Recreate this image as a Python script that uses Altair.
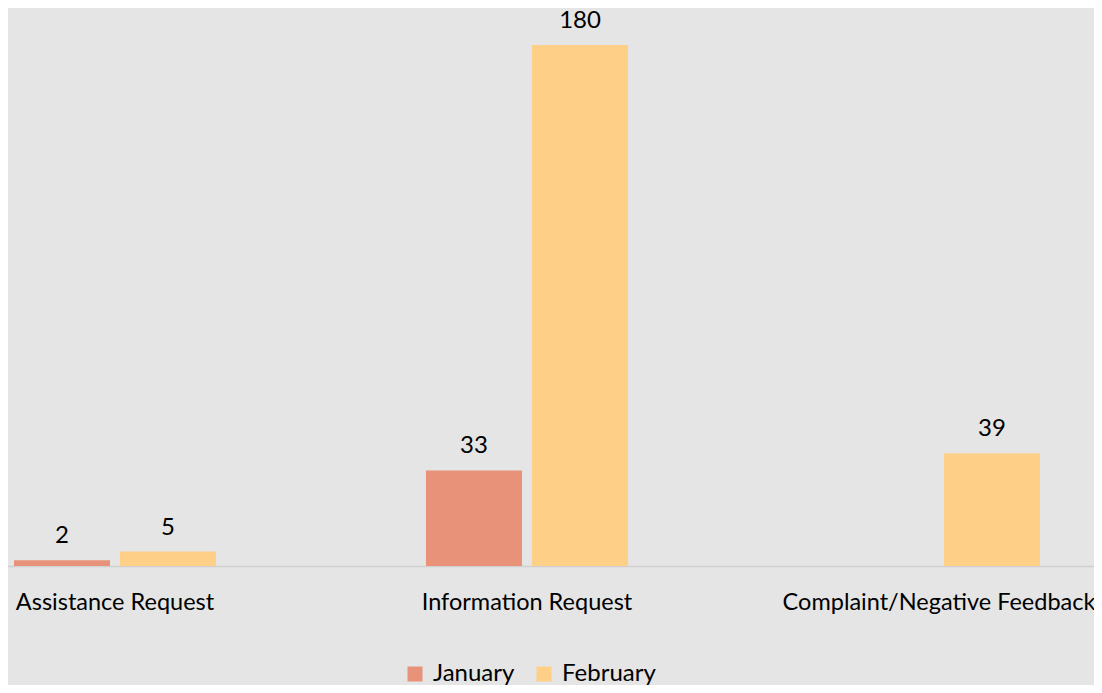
import altair as alt
import pandas as pd

categories = ["Assistance Request", "Information Request", "Complaint/Negative Feedback"]
months = ["January", "February"]
january = [2, 33, None]
february = [5, 180, 39]
colors = ["#E8927A", "#FECF86"]

rows = []
for c, j, f in zip(categories, january, february):
    rows.append({"category": c, "month": "January", "value": j})
    rows.append({"category": c, "month": "February", "value": f})
df = pd.DataFrame(rows)

FONT = "Lato"

base = alt.Chart(df).encode(
    x=alt.X("category:N", sort=categories, title=None,
            scale=alt.Scale(range=[-99, 1137], paddingInner=0, paddingOuter=0),
            axis=alt.Axis(labelAngle=0, ticks=False, tickSize=0, domainColor="#D0D0D0",
                          domainWidth=1.5, labelFontSize=23.5, labelFont=FONT, labelColor="#000000",
                          labelBaseline="alphabetic", labelPadding=43, labelLimit=0)),
    xOffset=alt.XOffset("month:N", sort=months,
                        scale=alt.Scale(domain=months, paddingInner=0.094, paddingOuter=0.99)),
)

bars = base.mark_bar().encode(
    y=alt.Y("value:Q", axis=None, scale=alt.Scale(domain=[0, 192.8], nice=False)),
    color=alt.Color("month:N", sort=months,
                    scale=alt.Scale(domain=months, range=colors),
                    legend=alt.Legend(title=None, orient="none", legendX=395, legendY=654,
                                      direction="horizontal", symbolType="square",
                                      symbolSize=225, symbolStrokeWidth=0,
                                      labelFontSize=24, labelFont=FONT, labelColor="#000000",
                                      labelOffset=6, columnPadding=17, padding=0)),
)

labels = base.transform_filter("isValid(datum.value)").mark_text(
    dy=-17, baseline="alphabetic", fontSize=24, font=FONT, color="#000000"
).encode(
    y=alt.Y("value:Q", scale=alt.Scale(domain=[0, 192.8], nice=False)),
    text=alt.Text("value:Q"),
)

chart = (bars + labels).properties(
    width=1086, height=558,
    autosize=alt.AutoSizeParams(type="none"),
    padding={"left": 0, "top": 0, "right": 0, "bottom": 119},
    background="#E5E5E5",
).configure_view(stroke=None)

chart.save("out.html", embed_options={"renderer": "svg", "actions": False})
